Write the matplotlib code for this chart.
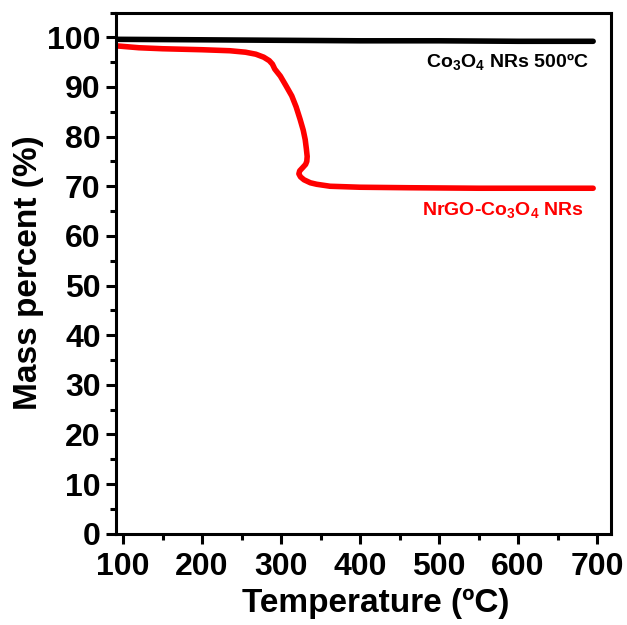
import numpy as np
import matplotlib
matplotlib.use('Agg')
import matplotlib.pyplot as plt
from matplotlib.ticker import MultipleLocator

plt.rcParams['font.family'] = 'Liberation Sans'
plt.rcParams['font.weight'] = 'bold'
plt.rcParams['mathtext.fontset'] = 'custom'
plt.rcParams['mathtext.rm'] = 'Liberation Sans:bold'
plt.rcParams['mathtext.bf'] = 'Liberation Sans:bold'
plt.rcParams['mathtext.it'] = 'Liberation Sans:bold'

#### data
temp_co3o4 = [90, 200, 300, 400, 500, 600, 695]
mass_co3o4 = [99.6, 99.5, 99.4, 99.3, 99.3, 99.2, 99.2]

temp_nrgo = [90, 120, 150, 200, 235, 255, 268, 278, 285, 289, 292, 299, 306, 313.5, 319, 324, 328,
             330.5, 332, 333, 332.5, 331, 327, 323.5, 322.5, 324.5, 329, 337, 345, 362, 400, 463,
             550, 650, 695]
mass_nrgo = [98.3, 97.9, 97.7, 97.5, 97.3, 97.0, 96.6, 96.0, 95.3, 94.6, 93.6, 92.2, 90.3, 88.2, 86.0,
             83.5, 81.3, 79.4, 77.5, 76.0, 75.0, 74.4, 73.7, 73.1, 72.5, 71.9, 71.3, 70.7, 70.4, 70.0,
             69.8, 69.7, 69.6, 69.6, 69.6]

label_co3o4 = r'Co$_3$O$_4$ NRs 500ºC'
label_nrgo = r'NrGO-Co$_3$O$_4$ NRs'

fig = plt.figure(figsize=(6.27, 6.25), dpi=100)
ax = fig.add_axes([0.185, 0.146, 0.79, 0.834])

ax.plot(temp_co3o4, mass_co3o4, color='black', lw=4, solid_capstyle='round')
ax.plot(temp_nrgo, mass_nrgo, color='#ff0000', lw=4, solid_capstyle='round',
        solid_joinstyle='round')

# labels sit at the right end, next to each curve
ax.text(689, 95.1, label_co3o4, ha='right', va='center', fontsize=14, color='black')
ax.text(683, 65.2, label_nrgo, ha='right', va='center', fontsize=14, color='#ff0000')

ax.set_xlim(91, 718)
ax.set_ylim(0, 105)
ax.xaxis.set_major_locator(MultipleLocator(100))
ax.xaxis.set_minor_locator(MultipleLocator(50))
ax.yaxis.set_major_locator(MultipleLocator(10))
ax.yaxis.set_minor_locator(MultipleLocator(5))
ax.tick_params(which='both', direction='out', width=2.2, labelsize=23)
ax.tick_params(axis='x', pad=6)
ax.tick_params(axis='y', pad=4)
ax.tick_params(which='major', length=7)
ax.tick_params(which='minor', length=4)
for s in ax.spines.values():
    s.set_linewidth(2.2)

ax.set_xlabel('Temperature (ºC)', fontsize=24, fontweight='bold')
ax.xaxis.set_label_coords(0.525, -0.104)
ax.xaxis.label.set_va('top')
ax.set_ylabel('Mass percent (%)', fontsize=24, fontweight='bold', labelpad=2)

fig.savefig('out.png', dpi=100)
